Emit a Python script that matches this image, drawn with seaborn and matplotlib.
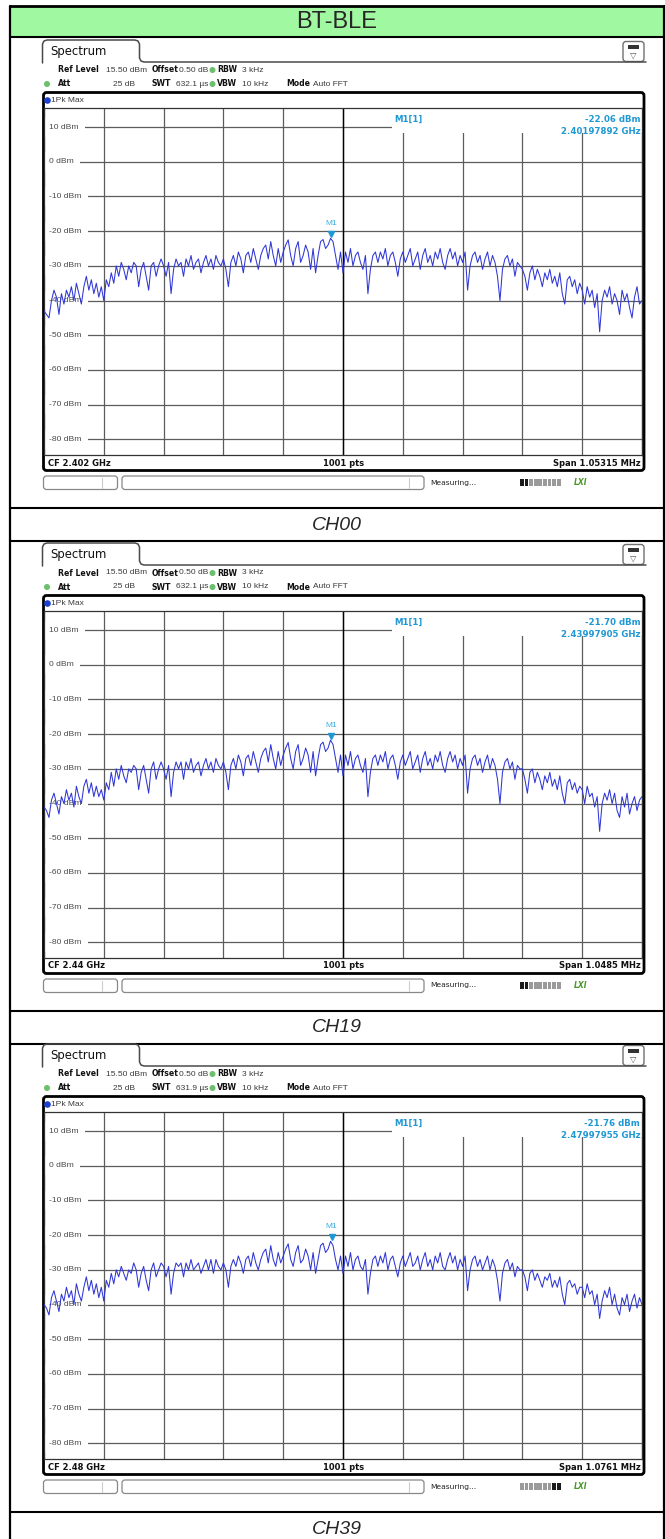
import numpy as np
import pandas as pd
import matplotlib
matplotlib.use("Agg")
import matplotlib.pyplot as plt
from matplotlib.patches import Rectangle, FancyBboxPatch, Circle
import seaborn as sns

sns.set_style("white")
plt.rcParams['font.family'] = ['DejaVu Sans']

W, H = 665, 1539

# ---- data ----
title = "BT-BLE"
channels = ["CH00", "CH19", "CH39"]
cf_ghz = [2.402, 2.44, 2.48]
cf_text = ["CF 2.402 GHz", "CF 2.44 GHz", "CF 2.48 GHz"]
span_mhz = [1.05315, 1.0485, 1.0761]
span_text = ["Span 1.05315 MHz", "Span 1.0485 MHz", "Span 1.0761 MHz"]
swt_text = ["632.1 µs", "632.1 µs", "631.9 µs"]
m1_freq = [2.40197892, 2.43997905, 2.47997955]
m1_level = [-22.06, -21.70, -21.76]
m1_freq_text = ["2.40197892 GHz", "2.43997905 GHz", "2.47997955 GHz"]
level_ticks = [10, 0, -10, -20, -30, -40, -50, -60, -70, -80]
ref_level = 15.5
range_db = 100
progress_dark = [[0, 1], [0, 1], [7, 8]]

trace_ch00 = [
    -43, -44, -45, -40, -37, -39, -44, -38, -41, -37, -39, -36, -40, -35, -38, -41, -36, -33, -37, -34, -38, -35, -39, -36,
    -40, -34, -36, -32, -35, -30, -33, -29, -31, -34, -30, -32, -29, -30, -36, -31, -29, -33, -37, -30, -29, -33, -30, -28,
    -30, -33, -29, -38, -31, -28, -30, -29, -33, -28, -30, -27, -31, -29, -28, -32, -29, -27, -30, -28, -31, -27, -29, -30,
    -28, -31, -36, -29, -27, -30, -26, -28, -32, -27, -26, -29, -25, -28, -31, -27, -25, -24, -28, -23, -27, -30, -25, -29,
    -26, -24, -22.5, -27, -30, -25, -23, -29, -27, -24, -26, -31, -25, -32, -27, -23, -22.4, -25, -24, -22.06, -23, -27, -31, -26,
    -32, -26, -29, -25, -30, -27, -26, -29, -31, -27, -38, -31, -27, -26, -29, -26, -28, -25, -30, -27, -26, -29, -33, -28,
    -26, -29, -27, -25, -30, -28, -26, -31, -27, -25, -29, -27, -30, -26, -28, -25, -29, -31, -27, -25, -28, -26, -30, -27,
    -29, -26, -37, -30, -27, -26, -29, -27, -31, -28, -26, -30, -27, -29, -33, -40, -31, -28, -27, -30, -28, -33, -29, -30,
    -31, -33, -37, -32, -30, -34, -31, -33, -36, -32, -34, -31, -35, -33, -36, -32, -38, -41, -34, -33, -36, -34, -38, -35,
    -37, -41, -36, -39, -37, -42, -38, -49, -40, -37, -39, -36, -41, -38, -40, -44, -37, -40, -38, -42, -45, -39, -36, -41,
    -40,
]
trace_ch19 = [
    -41, -42, -44, -39, -37, -40, -43, -38, -40, -36, -39, -37, -41, -35, -38, -40, -35, -33, -37, -34, -38, -35, -38, -36,
    -39, -34, -36, -31, -35, -30, -33, -29, -32, -34, -30, -31, -29, -30, -36, -31, -29, -33, -37, -30, -28, -33, -30, -28,
    -30, -33, -29, -38, -31, -28, -30, -28, -33, -28, -30, -27, -31, -29, -28, -32, -29, -27, -30, -28, -31, -27, -29, -30,
    -28, -31, -36, -29, -27, -30, -26, -28, -32, -27, -26, -29, -25, -28, -31, -27, -25, -24, -28, -23, -27, -30, -25, -29,
    -26, -24, -22.4, -27, -30, -25, -23, -29, -27, -24, -26, -31, -25, -32, -27, -23, -22.3, -25, -24, -21.70, -23, -27, -31, -26,
    -32, -26, -29, -25, -30, -27, -26, -29, -31, -27, -38, -31, -27, -26, -29, -26, -28, -25, -30, -27, -26, -29, -33, -28,
    -26, -29, -27, -25, -30, -28, -26, -31, -27, -25, -29, -27, -30, -26, -28, -25, -29, -31, -27, -25, -28, -26, -30, -27,
    -29, -26, -37, -30, -27, -26, -29, -27, -31, -28, -26, -30, -27, -29, -33, -40, -31, -28, -27, -30, -28, -33, -29, -30,
    -30, -33, -37, -31, -30, -34, -31, -33, -36, -32, -34, -31, -35, -33, -36, -32, -37, -40, -34, -33, -36, -34, -37, -35,
    -36, -40, -35, -38, -37, -41, -38, -48, -40, -37, -39, -36, -40, -37, -42, -44, -38, -41, -37, -43, -40, -38, -42, -39,
    -38,
]
trace_ch39 = [
    -40, -41, -43, -38, -36, -39, -42, -37, -39, -35, -38, -36, -40, -34, -37, -39, -35, -32, -36, -33, -37, -34, -38, -35,
    -39, -33, -35, -31, -34, -30, -32, -29, -31, -33, -30, -31, -28, -30, -35, -31, -29, -33, -36, -30, -28, -32, -30, -28,
    -29, -32, -29, -37, -31, -28, -29, -28, -32, -28, -30, -27, -30, -29, -28, -31, -29, -27, -30, -27, -31, -27, -29, -30,
    -28, -30, -35, -29, -27, -29, -26, -28, -31, -27, -26, -29, -25, -28, -30, -27, -25, -24, -28, -23, -27, -29, -25, -28,
    -26, -24, -22.5, -27, -29, -25, -23, -28, -27, -24, -26, -30, -25, -31, -27, -23, -22.3, -25, -24, -21.76, -23, -27, -30, -26,
    -31, -26, -29, -25, -30, -27, -26, -29, -30, -27, -37, -31, -27, -26, -29, -26, -28, -25, -30, -27, -26, -29, -32, -28,
    -26, -29, -27, -25, -29, -28, -26, -30, -27, -25, -29, -27, -30, -26, -28, -25, -29, -30, -27, -25, -28, -26, -30, -27,
    -29, -26, -36, -30, -27, -26, -29, -27, -30, -28, -26, -30, -27, -29, -33, -39, -31, -28, -27, -30, -28, -32, -29, -30,
    -30, -32, -36, -31, -30, -33, -31, -33, -35, -32, -33, -31, -35, -33, -35, -32, -37, -40, -34, -33, -35, -34, -37, -35,
    -35, -38, -34, -37, -36, -40, -37, -44, -39, -36, -38, -35, -40, -37, -41, -43, -38, -40, -37, -42, -39, -37, -41, -38,
    -40,
]
traces = [trace_ch00, trace_ch19, trace_ch39]

panel_dy = [0, 503, 1004]

TRACE = "#2f36d6"
MARK = "#1f98d4"
GRID = "#5c5c5c"
ARIAL = ["Liberation Sans", "DejaVu Sans"]

fig = plt.figure(figsize=(W / 100, H / 100), dpi=100)
bg = fig.add_axes([0, 0, 1, 1])
bg.set_xlim(0, W)
bg.set_ylim(H, 0)
bg.axis("off")

# ---- table ----
bg.add_patch(Rectangle((9.5, 5.5), W - 9.5, 31.5, fc="#a0f9a0", ec="none"))
bg.plot([9.5, W], [5.5, 5.5], color="black", lw=2)
bg.plot([9.5, W], [37, 37], color="black", lw=1.5)
bg.plot([9.5, 9.5], [5.5, H], color="black", lw=1.6)
bg.plot([664, 664], [5.5, H], color="black", lw=1.6)
bg.text(337, 22, title, ha="center", va="center", fontsize=17, family=ARIAL)


def label(x, y, s, **kw):
    # bold field names in DejaVu, plain values in a narrower face
    bg.text(x, y, s, fontsize=5.6, va="center", weight="bold", color="#111", **kw)


def value(x, y, s, **kw):
    bg.text(x, y, s, fontsize=6.0, va="center", family=ARIAL, color="#3a3a3a", **kw)


for k, dy in enumerate(panel_dy):
    # row dividers and channel caption
    bg.plot([9.5, W], [508 + dy, 508 + dy], color="black", lw=1.5)
    bg.plot([9.5, W], [540.5 + dy, 540.5 + dy], color="black", lw=1.5)
    bg.text(337, 525 + dy, channels[k], ha="center", va="center", fontsize=14,
            style="italic", family=ARIAL)

    # tab + icon
    bg.plot([42.5, 42.5, 44, 47, 135, 138, 139.5, 139.5, 141, 144, 646],
            [63 + dy, 44 + dy, 41 + dy, 40 + dy, 40 + dy, 41 + dy, 44 + dy, 58 + dy, 61 + dy, 62 + dy, 62 + dy],
            color="#4a4a4a", lw=1.1)
    bg.text(50, 51.5 + dy, "Spectrum", fontsize=8.4, va="center", color="#111")
    bg.add_patch(FancyBboxPatch((623, 41.5 + dy), 21, 20, boxstyle="round,pad=0,rounding_size=3",
                                fc="white", ec="#707070", lw=1))
    bg.add_patch(Rectangle((628, 45 + dy), 11, 4, fc="#333", ec="none"))
    bg.text(633.5, 55 + dy, "▽", ha="center", va="center", fontsize=6, color="#555")

    # settings rows
    y1, y2 = 70 + dy, 84 + dy
    label(58, y1, "Ref Level")
    value(106, y1, "15.50 dBm")
    label(152, y1, "Offset")
    value(179, y1, "0.50 dB")
    bg.add_patch(Circle((212.5, y1), 2.3, color="#6cc06c"))
    label(217, y1, "RBW")
    value(242, y1, "3 kHz")
    bg.add_patch(Circle((47, y2), 2.3, color="#6cc06c"))
    label(58, y2, "Att")
    value(135, y2, "25 dB", ha="right")
    label(152, y2, "SWT")
    value(176, y2, swt_text[k])
    bg.add_patch(Circle((212.5, y2), 2.3, color="#6cc06c"))
    label(217, y2, "VBW")
    value(242, y2, "10 kHz")
    label(286, y2, "Mode")
    value(313, y2, "Auto FFT")

    # display frame
    bg.add_patch(FancyBboxPatch((43.5, 92.5 + dy), 600.5, 378, boxstyle="round,pad=0,rounding_size=3",
                                fc="white", ec="black", lw=2))
    bg.add_patch(Circle((47.5, 100.5 + dy), 2.6, color="#1d3fd0"))
    value(51, 100.5 + dy, "1Pk Max")
    bg.text(48, 463 + dy, cf_text[k], fontsize=6, weight="bold", va="center", color="#111")
    bg.text(344, 463 + dy, "1001 pts", fontsize=6, weight="bold", va="center", ha="center", color="#111")
    bg.text(641, 463 + dy, span_text[k], fontsize=6, weight="bold", va="center", ha="right", color="#111")

    # status bar
    bg.add_patch(FancyBboxPatch((43.5, 476 + dy), 74, 13.5, boxstyle="round,pad=0,rounding_size=3",
                                fc="white", ec="#888", lw=0.9))
    bg.plot([102, 102], [478 + dy, 488 + dy], color="#ccc", lw=0.8)
    bg.add_patch(FancyBboxPatch((122, 476 + dy), 302, 13.5, boxstyle="round,pad=0,rounding_size=3",
                                fc="white", ec="#888", lw=0.9))
    bg.plot([409, 409], [478 + dy, 488 + dy], color="#ccc", lw=0.8)
    bg.text(430, 482.5 + dy, "Measuring...", fontsize=5.4, va="center", color="#222")
    for b in range(9):
        c = "#1a1a1a" if b in progress_dark[k] else "#9a9a9a"
        bg.add_patch(Rectangle((520 + b * 4.6, 479 + dy), 3.8, 7, fc=c, ec="none"))
    bg.text(574, 482.5 + dy, "LXI", fontsize=5.5, va="center", style="italic",
            weight="bold", color="#4a9a2a")

    # ---- spectrum trace ----
    lo = cf_ghz[k] - span_mhz[k] / 2000
    hi = cf_ghz[k] + span_mhz[k] / 2000
    ax = fig.add_axes([44 / W, 1 - (455 + dy) / H, 598 / W, 347 / H])
    df = pd.DataFrame({"freq": np.linspace(lo, hi, len(traces[k])), "level": traces[k]})
    sns.lineplot(data=df, x="freq", y="level", ax=ax, color=TRACE, lw=0.75,
                 estimator=None, sort=False, zorder=3)
    ax.set_xlim(lo, hi)
    ax.set_ylim(ref_level - range_db, ref_level)
    ax.set_xticks(np.linspace(lo, hi, 11))
    ax.set_yticks(level_ticks)
    ax.set_axisbelow(True)
    ax.grid(True, color=GRID, lw=0.9)
    ax.axvline(cf_ghz[k], color="black", lw=1, zorder=0.8)
    ax.tick_params(length=0, labelbottom=False, labelleft=False)
    ax.set_xlabel("")
    ax.set_ylabel("")
    for s in ax.spines.values():
        s.set_color("#333")
        s.set_linewidth(0.9)
    for lev in level_ticks:
        ax.text(lo + 0.009 * (hi - lo), lev, f"{lev} dBm", fontsize=6.1, va="center", ha="left",
                color="#4a4a4a", zorder=2, family=ARIAL, clip_on=True,
                bbox=dict(boxstyle="square,pad=0.7", fc="white", ec="none"))
    # marker readout box
    ax.add_patch(Rectangle((0.582, 0.927), 0.418, 0.073, transform=ax.transAxes,
                           fc="white", ec="none", zorder=2))
    ax.text(0.585, 0.968, "M1[1]", transform=ax.transAxes, fontsize=6.2, weight="bold",
            color=MARK, va="center", zorder=4)
    ax.text(0.997, 0.968, f"{m1_level[k]:.2f} dBm", transform=ax.transAxes, fontsize=6.2,
            weight="bold", color=MARK, va="center", ha="right", zorder=4)
    ax.text(0.997, 0.933, m1_freq_text[k], transform=ax.transAxes, fontsize=6.2,
            weight="bold", color=MARK, va="center", ha="right", zorder=4)
    # marker M1
    ax.plot([m1_freq[k]], [m1_level[k] + 1.2], marker="v", ms=4, color=MARK, zorder=5)
    ax.text(m1_freq[k], m1_level[k] + 4.2, "M1", fontsize=6, color="#3aaee0",
            ha="center", va="center", zorder=5, family=ARIAL)

fig.savefig("out.png", dpi=100)
